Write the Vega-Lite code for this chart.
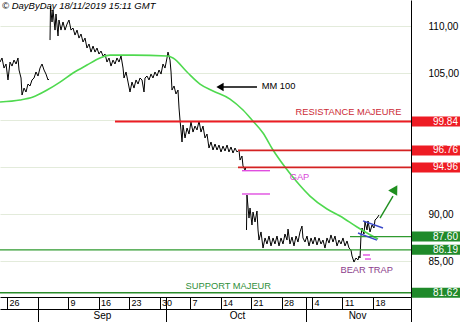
{
  "$schema": "https://vega.github.io/schema/vega-lite/v6.json",
  "width": 411,
  "height": 297,
  "padding": {"left": 0, "top": 0, "right": 49, "bottom": 25},
  "autosize": {"type": "none"},
  "background": "white",
  "config": {
    "view": {"stroke": null},
    "font": "Liberation Sans"
  },
  "datasets": {
    "price": [
      {"seg": "a", "t": -1.15, "p": 106.17}, {"seg": "a", "t": -0.82, "p": 106.6}, {"seg": "a", "t": -0.49, "p": 105.53},
      {"seg": "a", "t": -0.16, "p": 105.96}, {"seg": "a", "t": 0.16, "p": 104.26}, {"seg": "a", "t": 0.49, "p": 106.17},
      {"seg": "a", "t": 0.82, "p": 105.74}, {"seg": "a", "t": 1.15, "p": 106.38}, {"seg": "a", "t": 1.48, "p": 105.96},
      {"seg": "a", "t": 1.8, "p": 106.6}, {"seg": "a", "t": 1.97, "p": 105.32}, {"seg": "a", "t": 2.3, "p": 104.47},
      {"seg": "a", "t": 2.46, "p": 102.66}, {"seg": "a", "t": 2.79, "p": 103.4}, {"seg": "a", "t": 3.11, "p": 102.98},
      {"seg": "a", "t": 3.44, "p": 103.83}, {"seg": "a", "t": 3.77, "p": 103.62}, {"seg": "a", "t": 4.1, "p": 104.26},
      {"seg": "a", "t": 4.43, "p": 104.47}, {"seg": "a", "t": 4.75, "p": 105.11}, {"seg": "a", "t": 5.08, "p": 104.68},
      {"seg": "a", "t": 5.41, "p": 105.53}, {"seg": "a", "t": 5.74, "p": 105.96}, {"seg": "a", "t": 6.07, "p": 105.32},
      {"seg": "a", "t": 6.39, "p": 104.89}, {"seg": "a", "t": 6.72, "p": 104.26}, {"seg": "a", "t": 6.89, "p": 104.36},
      {"seg": "b", "t": 7.05, "p": 108.51}, {"seg": "b", "t": 7.13, "p": 112.13}, {"seg": "b", "t": 7.38, "p": 110.43},
      {"seg": "b", "t": 7.54, "p": 111.7}, {"seg": "b", "t": 7.87, "p": 109.57}, {"seg": "b", "t": 8.03, "p": 111.28},
      {"seg": "b", "t": 8.36, "p": 108.94}, {"seg": "b", "t": 8.52, "p": 110.64}, {"seg": "b", "t": 8.85, "p": 109.57},
      {"seg": "b", "t": 9.18, "p": 110.43}, {"seg": "b", "t": 9.51, "p": 109.57}, {"seg": "b", "t": 9.84, "p": 110.21},
      {"seg": "b", "t": 10.16, "p": 110.64}, {"seg": "b", "t": 10.49, "p": 109.57}, {"seg": "b", "t": 10.82, "p": 109.79},
      {"seg": "b", "t": 11.15, "p": 109.04}, {"seg": "b", "t": 11.48, "p": 109.57}, {"seg": "b", "t": 11.8, "p": 108.72},
      {"seg": "b", "t": 12.13, "p": 109.15}, {"seg": "b", "t": 12.46, "p": 108.3}, {"seg": "b", "t": 12.79, "p": 108.72},
      {"seg": "b", "t": 13.11, "p": 107.66}, {"seg": "b", "t": 13.44, "p": 108.09}, {"seg": "b", "t": 13.77, "p": 107.23},
      {"seg": "b", "t": 14.1, "p": 107.87}, {"seg": "b", "t": 14.43, "p": 107.23}, {"seg": "b", "t": 14.75, "p": 107.66},
      {"seg": "b", "t": 15.08, "p": 107.02}, {"seg": "b", "t": 15.41, "p": 107.34}, {"seg": "b", "t": 15.74, "p": 106.81},
      {"seg": "b", "t": 16.07, "p": 107.02}, {"seg": "b", "t": 16.39, "p": 106.17}, {"seg": "b", "t": 16.72, "p": 106.6},
      {"seg": "b", "t": 17.05, "p": 105.74}, {"seg": "b", "t": 17.38, "p": 106.38}, {"seg": "b", "t": 17.7, "p": 105.96},
      {"seg": "b", "t": 18.03, "p": 106.6}, {"seg": "b", "t": 18.36, "p": 106.17}, {"seg": "b", "t": 18.69, "p": 106.81},
      {"seg": "b", "t": 19.02, "p": 105.53}, {"seg": "b", "t": 19.18, "p": 104.47}, {"seg": "b", "t": 19.51, "p": 105.11},
      {"seg": "b", "t": 19.84, "p": 104.04}, {"seg": "b", "t": 20.16, "p": 102.98}, {"seg": "b", "t": 20.49, "p": 104.04},
      {"seg": "b", "t": 20.82, "p": 103.4}, {"seg": "b", "t": 21.15, "p": 104.26}, {"seg": "b", "t": 21.48, "p": 103.83},
      {"seg": "b", "t": 21.8, "p": 104.47}, {"seg": "b", "t": 22.13, "p": 104.26}, {"seg": "b", "t": 22.46, "p": 102.98},
      {"seg": "b", "t": 22.62, "p": 104.47}, {"seg": "b", "t": 22.95, "p": 104.68}, {"seg": "b", "t": 23.28, "p": 104.26},
      {"seg": "b", "t": 23.61, "p": 104.89}, {"seg": "b", "t": 23.93, "p": 104.47}, {"seg": "b", "t": 24.26, "p": 105.11},
      {"seg": "b", "t": 24.59, "p": 104.68}, {"seg": "b", "t": 24.92, "p": 105.32}, {"seg": "b", "t": 25.25, "p": 104.89},
      {"seg": "b", "t": 25.57, "p": 105.96}, {"seg": "b", "t": 25.9, "p": 105.53}, {"seg": "b", "t": 26.23, "p": 106.6},
      {"seg": "b", "t": 26.39, "p": 107.23}, {"seg": "b", "t": 26.72, "p": 106.38}, {"seg": "b", "t": 26.89, "p": 105.11},
      {"seg": "b", "t": 27.05, "p": 103.19}, {"seg": "b", "t": 27.38, "p": 103.62}, {"seg": "b", "t": 27.7, "p": 102.77},
      {"seg": "b", "t": 28.03, "p": 103.19}, {"seg": "b", "t": 28.2, "p": 101.28}, {"seg": "b", "t": 28.36, "p": 100.0},
      {"seg": "b", "t": 28.52, "p": 98.94}, {"seg": "b", "t": 28.69, "p": 97.66}, {"seg": "b", "t": 28.85, "p": 99.47},
      {"seg": "b", "t": 29.18, "p": 98.09}, {"seg": "b", "t": 29.51, "p": 99.15}, {"seg": "b", "t": 29.84, "p": 98.51},
      {"seg": "b", "t": 30.16, "p": 99.79}, {"seg": "b", "t": 30.49, "p": 98.72}, {"seg": "b", "t": 30.82, "p": 99.36},
      {"seg": "b", "t": 31.15, "p": 98.94}, {"seg": "b", "t": 31.48, "p": 99.89}, {"seg": "b", "t": 31.8, "p": 98.72},
      {"seg": "b", "t": 32.13, "p": 99.36}, {"seg": "b", "t": 32.46, "p": 98.09}, {"seg": "b", "t": 32.79, "p": 98.51},
      {"seg": "b", "t": 33.11, "p": 97.02}, {"seg": "b", "t": 33.44, "p": 97.66}, {"seg": "b", "t": 33.77, "p": 96.81},
      {"seg": "b", "t": 34.1, "p": 97.45}, {"seg": "b", "t": 34.43, "p": 96.81}, {"seg": "b", "t": 34.75, "p": 97.34},
      {"seg": "b", "t": 35.08, "p": 96.6}, {"seg": "b", "t": 35.41, "p": 97.23}, {"seg": "b", "t": 35.74, "p": 96.7},
      {"seg": "b", "t": 36.07, "p": 97.34}, {"seg": "b", "t": 36.39, "p": 96.6}, {"seg": "b", "t": 36.72, "p": 97.13},
      {"seg": "b", "t": 37.05, "p": 96.49}, {"seg": "b", "t": 37.38, "p": 97.02}, {"seg": "b", "t": 37.7, "p": 96.6},
      {"seg": "b", "t": 38.03, "p": 96.81}, {"seg": "b", "t": 38.2, "p": 95.74}, {"seg": "b", "t": 38.52, "p": 96.17},
      {"seg": "b", "t": 38.69, "p": 95.11}, {"seg": "b", "t": 39.02, "p": 94.68}, {"seg": "b", "t": 39.18, "p": 95.0},
      {"seg": "c", "t": 39.26, "p": 88.3}, {"seg": "c", "t": 39.34, "p": 92.02}, {"seg": "c", "t": 39.67, "p": 89.57},
      {"seg": "c", "t": 39.84, "p": 90.64}, {"seg": "c", "t": 40.16, "p": 88.83}, {"seg": "c", "t": 40.33, "p": 90.21},
      {"seg": "c", "t": 40.66, "p": 89.15}, {"seg": "c", "t": 40.98, "p": 90.32}, {"seg": "c", "t": 41.15, "p": 88.3},
      {"seg": "c", "t": 41.31, "p": 87.23}, {"seg": "c", "t": 41.64, "p": 88.09}, {"seg": "c", "t": 41.97, "p": 86.38},
      {"seg": "c", "t": 42.3, "p": 87.45}, {"seg": "c", "t": 42.62, "p": 86.81}, {"seg": "c", "t": 42.95, "p": 87.66},
      {"seg": "c", "t": 43.28, "p": 86.6}, {"seg": "c", "t": 43.61, "p": 87.45}, {"seg": "c", "t": 43.93, "p": 86.81},
      {"seg": "c", "t": 44.26, "p": 87.66}, {"seg": "c", "t": 44.59, "p": 86.6}, {"seg": "c", "t": 44.92, "p": 87.45},
      {"seg": "c", "t": 45.25, "p": 86.81}, {"seg": "c", "t": 45.57, "p": 87.87}, {"seg": "c", "t": 45.9, "p": 87.23},
      {"seg": "c", "t": 46.07, "p": 88.4}, {"seg": "c", "t": 46.39, "p": 86.81}, {"seg": "c", "t": 46.72, "p": 87.55},
      {"seg": "c", "t": 47.05, "p": 86.6}, {"seg": "c", "t": 47.38, "p": 87.66}, {"seg": "c", "t": 47.7, "p": 87.02},
      {"seg": "c", "t": 48.03, "p": 88.09}, {"seg": "c", "t": 48.36, "p": 88.72}, {"seg": "c", "t": 48.52, "p": 87.45},
      {"seg": "c", "t": 48.85, "p": 87.02}, {"seg": "c", "t": 49.18, "p": 87.66}, {"seg": "c", "t": 49.51, "p": 86.6},
      {"seg": "c", "t": 49.84, "p": 87.45}, {"seg": "c", "t": 50.16, "p": 86.81}, {"seg": "c", "t": 50.49, "p": 87.55},
      {"seg": "c", "t": 50.82, "p": 86.7}, {"seg": "c", "t": 51.15, "p": 87.45}, {"seg": "c", "t": 51.48, "p": 86.81},
      {"seg": "c", "t": 51.8, "p": 87.23}, {"seg": "c", "t": 52.13, "p": 86.38}, {"seg": "c", "t": 52.46, "p": 87.45},
      {"seg": "c", "t": 52.79, "p": 86.91}, {"seg": "c", "t": 53.11, "p": 87.77}, {"seg": "c", "t": 53.44, "p": 87.02},
      {"seg": "c", "t": 53.77, "p": 87.66}, {"seg": "c", "t": 54.1, "p": 86.6}, {"seg": "c", "t": 54.43, "p": 87.23},
      {"seg": "c", "t": 54.75, "p": 86.81}, {"seg": "c", "t": 55.08, "p": 87.45}, {"seg": "c", "t": 55.41, "p": 86.6},
      {"seg": "c", "t": 55.74, "p": 87.13}, {"seg": "c", "t": 56.07, "p": 86.38}, {"seg": "c", "t": 56.39, "p": 86.17},
      {"seg": "c", "t": 56.56, "p": 85.53}, {"seg": "c", "t": 56.89, "p": 84.89}, {"seg": "c", "t": 57.21, "p": 85.32},
      {"seg": "c", "t": 57.54, "p": 85.11}, {"seg": "c", "t": 57.7, "p": 85.53}, {"seg": "c", "t": 57.87, "p": 85.32},
      {"seg": "c", "t": 58.03, "p": 87.66}, {"seg": "c", "t": 58.2, "p": 88.51}, {"seg": "c", "t": 58.52, "p": 87.87},
      {"seg": "c", "t": 58.69, "p": 89.15}, {"seg": "c", "t": 59.02, "p": 88.3}, {"seg": "c", "t": 59.18, "p": 89.26},
      {"seg": "c", "t": 59.51, "p": 88.09}, {"seg": "c", "t": 59.84, "p": 88.83}, {"seg": "c", "t": 60.16, "p": 88.51},
      {"seg": "c", "t": 60.33, "p": 89.36}, {"seg": "c", "t": 60.66, "p": 89.57}, {"seg": "c", "t": 60.98, "p": 89.89}
    ],
    "ma": [
      {"t": -1.15, "p": 101.91}, {"t": 2.13, "p": 102.13}, {"t": 4.26, "p": 102.45}, {"t": 6.56, "p": 103.19},
      {"t": 8.69, "p": 104.04}, {"t": 10.82, "p": 105.0}, {"t": 13.11, "p": 105.85}, {"t": 15.25, "p": 106.6},
      {"t": 16.89, "p": 106.91}, {"t": 20.66, "p": 106.91}, {"t": 26.23, "p": 106.81}, {"t": 27.21, "p": 106.6},
      {"t": 29.51, "p": 105.11}, {"t": 31.64, "p": 103.83}, {"t": 33.77, "p": 103.09}, {"t": 36.56, "p": 102.23},
      {"t": 38.69, "p": 101.06}, {"t": 40.16, "p": 100.0}, {"t": 41.97, "p": 98.62}, {"t": 43.61, "p": 96.81},
      {"t": 45.57, "p": 95.0}, {"t": 47.54, "p": 93.4}, {"t": 49.67, "p": 91.91}, {"t": 52.46, "p": 90.53},
      {"t": 54.59, "p": 89.79}, {"t": 57.38, "p": 88.62}, {"t": 59.02, "p": 87.98}, {"t": 60.82, "p": 87.34}
    ],
    "levels": [
      {"level": 99.84, "from": 17.7, "kind": "R1", "side": "R"},
      {"level": 96.76, "from": 37.87, "kind": "R2", "side": "R"},
      {"level": 94.96, "from": 37.87, "kind": "R2", "side": "R"},
      {"level": 87.6, "from": 56.23, "kind": "S2", "side": "S"},
      {"level": 86.19, "from": -1.15, "kind": "S2", "side": "S"},
      {"level": 81.62, "from": -1.15, "kind": "S1", "side": "S"}
    ],
    "notes": [
      {"t": 55.98, "p": 100.88, "text": "RESISTANCE MAJEURE", "kind": "res"},
      {"t": 47.95, "p": 93.94, "text": "GAP", "kind": "gap"},
      {"t": 44.51, "p": 103.59, "text": "MM 100", "kind": "mm"},
      {"t": 36.28, "p": 82.37, "text": "SUPPORT MAJEUR", "kind": "sup"},
      {"t": 58.97, "p": 84.01, "text": "BEAR TRAP", "kind": "trap"}
    ],
    "header": [
      {"t": -0.82, "p": 111.86, "text": "© DayByDay  18/11/2019  15:11 GMT"}
    ],
    "strokes": [
      {"grp": "mm", "t": 35.25, "p": 103.51}, {"grp": "mm", "t": 40.98, "p": 103.51},
      {"grp": "gap1", "t": 38.52, "p": 94.61}, {"grp": "gap1", "t": 43.11, "p": 94.61},
      {"grp": "gap2", "t": 38.52, "p": 92.13}, {"grp": "gap2", "t": 43.11, "p": 92.13},
      {"grp": "trap1", "t": 58.36, "p": 85.64}, {"grp": "trap1", "t": 59.51, "p": 85.64},
      {"grp": "trap2", "t": 58.69, "p": 85.21}, {"grp": "trap2", "t": 59.67, "p": 85.21},
      {"grp": "flag1", "t": 58.36, "p": 89.26}, {"grp": "flag1", "t": 61.64, "p": 88.51},
      {"grp": "flag2", "t": 57.54, "p": 87.98}, {"grp": "flag2", "t": 60.66, "p": 87.23},
      {"grp": "up", "t": 61.15, "p": 89.57}, {"grp": "up", "t": 63.28, "p": 91.91}
    ],
    "heads": [
      {"name": "mm", "t": 34.92, "p": 103.51},
      {"name": "up", "t": 63.61, "p": 92.64}
    ]
  },
  "resolve": {
    "axis": {"x": "independent"},
    "scale": {"color": "independent", "strokeWidth": "independent"}
  },
  "layer": [
    {
      "data": {"name": "price"},
      "mark": {"type": "line", "color": "black", "strokeWidth": 1},
      "encoding": {
        "x": {
          "field": "t", "type": "quantitative",
          "scale": {"domain": [-1.15, 66.23], "nice": false, "zero": false},
          "axis": {
            "orient": "bottom", "title": null, "grid": false,
            "values": [0, 5, 10, 15, 20, 25, 26, 30, 35, 40, 45, 49, 50, 55, 60, 66.23],
            "labelExpr": "indexof([5, 26, 49, 66.23], datum.value) >= 0 ? '' : timeFormat(datetime(2019, 7, 26 + floor(datum.value / 5) * 7 + datum.value % 5), '%-d')",
            "tickSize": 12, "tickColor": "black", "domainColor": "black",
            "labelPadding": -6.5, "labelAlign": "left", "labelBaseline": "middle", "labelOffset": 2,
            "labelFontSize": 9, "labelColor": "black", "labelFlush": false, "labelOverlap": false
          }
        },
        "y": {
          "field": "p", "type": "quantitative",
          "scale": {"domain": [81.17, 112.77], "nice": false, "zero": false},
          "axis": {"orient": "right", "title": null, "values": [85, 90, 95, 100, 105, 110], "labelExpr": "datum.value == 95 || datum.value == 100 ? '' : replace(format(datum.value, '.2f'), '.', ',')", "tickSize": 15, "tickOpacity": 0, "labelPadding": 2, "labelFontSize": 10, "labelColor": "black", "domainColor": "black", "gridColor": "#e3ebdb"}
        },
        "detail": {"field": "seg"}
      }
    },
    {
      "data": {"name": "ma"},
      "mark": {"type": "line", "color": "#4fd94f", "strokeWidth": 1.6, "interpolate": "monotone"},
      "encoding": {
        "x": {
          "field": "t", "type": "quantitative",
          "axis": {
            "orient": "bottom", "title": null, "grid": false, "offset": 12,
            "values": [5, 26, 49, 66.23], "labels": false,
            "tickSize": 13, "tickColor": "black", "domainColor": "black"
          }
        },
        "y": {
          "field": "p", "type": "quantitative",
          "axis": {"orient": "right", "title": null, "values": [85, 90, 95, 100, 105, 110], "labelExpr": "datum.value == 95 || datum.value == 100 ? '' : replace(format(datum.value, '.2f'), '.', ',')", "tickSize": 15, "tickOpacity": 0, "labelPadding": 2, "labelFontSize": 10, "labelColor": "black", "domainColor": "black", "gridColor": "#e3ebdb"}
        }
      }
    },
    {
      "data": {"name": "levels"},
      "mark": {"type": "rule"},
      "encoding": {
        "x": {"field": "from", "type": "quantitative", "axis": null},
        "x2": {"datum": 66.23},
        "y": {
          "field": "level", "type": "quantitative",
          "axis": {"orient": "right", "title": null, "values": [85, 90, 95, 100, 105, 110], "labelExpr": "datum.value == 95 || datum.value == 100 ? '' : replace(format(datum.value, '.2f'), '.', ',')", "tickSize": 15, "tickOpacity": 0, "labelPadding": 2, "labelFontSize": 10, "labelColor": "black", "domainColor": "black", "gridColor": "#e3ebdb"}
        },
        "color": {
          "field": "kind", "type": "nominal",
          "scale": {"domain": ["R1", "R2", "S1", "S2"], "range": ["#ec1c24", "#d42222", "#2a8c2a", "#2f9a2f"]},
          "legend": null
        },
        "strokeWidth": {
          "field": "kind", "type": "nominal",
          "scale": {"domain": ["R1", "R2", "S1", "S2"], "range": [2, 1.3, 2, 1.5]},
          "legend": null
        }
      }
    },
    {
      "data": {"name": "levels"},
      "mark": {"type": "rect", "height": 10},
      "encoding": {
        "x": {"datum": 66.39, "type": "quantitative", "axis": null},
        "x2": {"datum": 74.26},
        "y": {
          "field": "level", "type": "quantitative",
          "axis": {"orient": "right", "title": null, "values": [85, 90, 95, 100, 105, 110], "labelExpr": "datum.value == 95 || datum.value == 100 ? '' : replace(format(datum.value, '.2f'), '.', ',')", "tickSize": 15, "tickOpacity": 0, "labelPadding": 2, "labelFontSize": 10, "labelColor": "black", "domainColor": "black", "gridColor": "#e3ebdb"}
        },
        "color": {
          "field": "side", "type": "nominal",
          "scale": {"domain": ["R", "S"], "range": ["#ee1c24", "#1f8a2a"]},
          "legend": null
        }
      }
    },
    {
      "data": {"name": "levels"},
      "mark": {"type": "text", "align": "right", "baseline": "middle", "color": "white", "fontSize": 10, "font": "Liberation Sans"},
      "encoding": {
        "x": {"datum": 73.93, "type": "quantitative", "axis": null},
        "y": {
          "field": "level", "type": "quantitative",
          "axis": {"orient": "right", "title": null, "values": [85, 90, 95, 100, 105, 110], "labelExpr": "datum.value == 95 || datum.value == 100 ? '' : replace(format(datum.value, '.2f'), '.', ',')", "tickSize": 15, "tickOpacity": 0, "labelPadding": 2, "labelFontSize": 10, "labelColor": "black", "domainColor": "black", "gridColor": "#e3ebdb"}
        },
        "text": {"field": "level", "type": "quantitative", "format": ".2f"}
      }
    },
    {
      "data": {"name": "notes"},
      "mark": {"type": "text", "align": "center", "baseline": "middle", "fontSize": 9.3, "font": "Liberation Sans"},
      "encoding": {
        "x": {
          "field": "t", "type": "quantitative",
          "axis": {
            "orient": "bottom", "title": null, "grid": false, "offset": 12,
            "values": [15.57, 37.7, 57.38],
            "labelExpr": "datum.value < 20 ? 'Sep' : datum.value < 45 ? 'Oct' : 'Nov'",
            "ticks": false, "domain": false, "labelPadding": 1.5, "labelBaseline": "top",
            "labelAlign": "center", "labelFontSize": 10, "labelColor": "black",
            "labelFlush": false, "labelOverlap": false
          }
        },
        "y": {
          "field": "p", "type": "quantitative",
          "axis": {"orient": "right", "title": null, "values": [85, 90, 95, 100, 105, 110], "labelExpr": "datum.value == 95 || datum.value == 100 ? '' : replace(format(datum.value, '.2f'), '.', ',')", "tickSize": 15, "tickOpacity": 0, "labelPadding": 2, "labelFontSize": 10, "labelColor": "black", "domainColor": "black", "gridColor": "#e3ebdb"}
        },
        "text": {"field": "text"},
        "color": {
          "field": "kind", "type": "nominal",
          "scale": {"domain": ["res", "gap", "mm", "sup", "trap"], "range": ["#cc2a36", "#d94ad9", "#000000", "#2f8f3a", "#8b3d8b"]},
          "legend": null
        }
      }
    },
    {
      "data": {"name": "header"},
      "mark": {"type": "text", "align": "left", "baseline": "alphabetic", "fontSize": 9.5, "fontStyle": "italic", "color": "black", "font": "Liberation Sans"},
      "encoding": {
        "x": {"field": "t", "type": "quantitative", "axis": null},
        "y": {
          "field": "p", "type": "quantitative",
          "axis": {"orient": "right", "title": null, "values": [85, 90, 95, 100, 105, 110], "labelExpr": "datum.value == 95 || datum.value == 100 ? '' : replace(format(datum.value, '.2f'), '.', ',')", "tickSize": 15, "tickOpacity": 0, "labelPadding": 2, "labelFontSize": 10, "labelColor": "black", "domainColor": "black", "gridColor": "#e3ebdb"}
        },
        "text": {"field": "text"}
      }
    },
    {
      "data": {"name": "strokes"},
      "mark": {"type": "line", "strokeWidth": 1.4},
      "encoding": {
        "x": {"field": "t", "type": "quantitative", "axis": null},
        "y": {
          "field": "p", "type": "quantitative",
          "axis": {"orient": "right", "title": null, "values": [85, 90, 95, 100, 105, 110], "labelExpr": "datum.value == 95 || datum.value == 100 ? '' : replace(format(datum.value, '.2f'), '.', ',')", "tickSize": 15, "tickOpacity": 0, "labelPadding": 2, "labelFontSize": 10, "labelColor": "black", "domainColor": "black", "gridColor": "#e3ebdb"}
        },
        "detail": {"field": "grp"},
        "color": {
          "field": "grp", "type": "nominal",
          "scale": {"domain": ["mm", "gap1", "gap2", "trap1", "trap2", "flag1", "flag2", "up"], "range": ["#000000", "#e04ee0", "#e04ee0", "#e04ee0", "#e04ee0", "#3a48c8", "#3a48c8", "#1f8f1f"]},
          "legend": null
        }
      }
    },
    {
      "data": {"name": "heads"},
      "transform": [{"filter": "datum.name == 'mm'"}],
      "mark": {"type": "point", "shape": "triangle-left", "filled": true, "color": "black", "size": 70, "opacity": 1},
      "encoding": {
        "x": {"field": "t", "type": "quantitative", "axis": null},
        "y": {
          "field": "p", "type": "quantitative",
          "axis": {"orient": "right", "title": null, "values": [85, 90, 95, 100, 105, 110], "labelExpr": "datum.value == 95 || datum.value == 100 ? '' : replace(format(datum.value, '.2f'), '.', ',')", "tickSize": 15, "tickOpacity": 0, "labelPadding": 2, "labelFontSize": 10, "labelColor": "black", "domainColor": "black", "gridColor": "#e3ebdb"}
        }
      }
    },
    {
      "data": {"name": "heads"},
      "transform": [{"filter": "datum.name == 'up'"}],
      "mark": {"type": "point", "shape": "triangle-up", "filled": true, "color": "#1f8f1f", "size": 110, "angle": 31, "opacity": 1},
      "encoding": {
        "x": {"field": "t", "type": "quantitative", "axis": null},
        "y": {
          "field": "p", "type": "quantitative",
          "axis": {"orient": "right", "title": null, "values": [85, 90, 95, 100, 105, 110], "labelExpr": "datum.value == 95 || datum.value == 100 ? '' : replace(format(datum.value, '.2f'), '.', ',')", "tickSize": 15, "tickOpacity": 0, "labelPadding": 2, "labelFontSize": 10, "labelColor": "black", "domainColor": "black", "gridColor": "#e3ebdb"}
        }
      }
    }
  ]
}
